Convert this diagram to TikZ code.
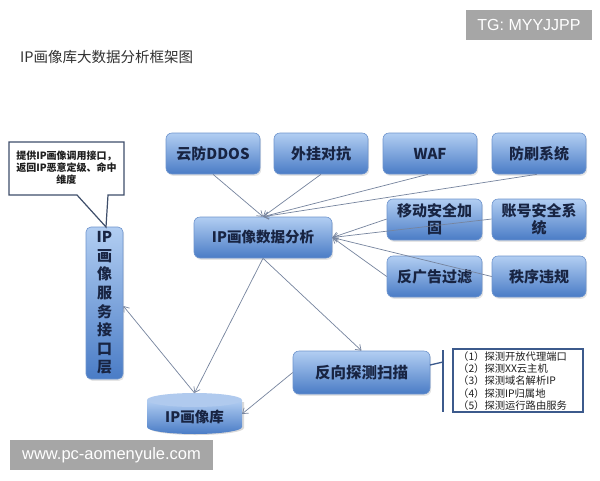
\documentclass[tikz,border=0pt]{standalone}
\usepackage{fontspec}
\setmainfont{Noto Sans CJK SC}
\newfontfamily\wmfont{Liberation Sans}
\usetikzlibrary{arrows.meta,shadows}
\definecolor{boxtop}{RGB}{178,206,242}
\definecolor{boxbot}{RGB}{74,124,198}
\definecolor{boxedge}{RGB}{110,148,205}
\definecolor{boxtext}{RGB}{24,36,66}
\definecolor{linegray}{RGB}{118,132,158}
\definecolor{wmgray}{RGB}{166,166,166}
\definecolor{listblue}{RGB}{60,90,140}
\definecolor{dbtopcol}{RGB}{176,202,238}
\definecolor{titlecol}{RGB}{50,50,50}
\definecolor{notecol}{RGB}{30,30,30}
\definecolor{noteedge}{RGB}{62,78,106}
\tikzset{
  bluebox/.style={rounded corners=6pt, top color=boxtop, bottom color=boxbot, draw=boxedge, line width=0.6pt,
    drop shadow={shadow xshift=1.2pt, shadow yshift=-1.8pt, opacity=0.2},
    text=boxtext, font=\bfseries\fontsize{15}{18}\selectfont, align=center, inner sep=2pt},
  conn/.style={draw=linegray, line width=0.7pt, -{Straight Barb[length=5pt,width=7pt]}},
  wmbox/.style={fill=wmgray, text=white, font=\wmfont\fontsize{16}{18}\selectfont, inner sep=0pt}
}
\begin{document}
\begin{tikzpicture}[x=1pt,y=-1pt]
\useasboundingbox[fill=white] (0,0) rectangle (600,480);

% watermark top
\fill[wmgray] (466,10) rectangle (592,40);
\node[wmbox] (tg) at (529,25) {TG: MYYJJPP};

% title
\node[anchor=west, text=titlecol, font=\fontsize{14.5}{16}\selectfont, inner sep=0pt] (title) at (20,57) {IP画像库大数据分析框架图};

% top row
\node[bluebox, minimum width=94pt, minimum height=41pt] (ddos) at (213,153.5) {云防DDOS};
\node[bluebox, minimum width=94pt, minimum height=41pt] (wg) at (321,153.5) {外挂对抗};
\node[bluebox, minimum width=94pt, minimum height=41pt] (waf) at (430,153.5) {WAF};
\node[bluebox, minimum width=94pt, minimum height=41pt] (fs) at (539,153.5) {防刷系统};

% right blocks
\node[bluebox, minimum width=95pt, minimum height=41pt, font=\bfseries\fontsize{15}{17}\selectfont] (yd) at (434.5,219.5) {移动安全加\\固};
\node[bluebox, minimum width=94pt, minimum height=41pt, font=\bfseries\fontsize{15}{17}\selectfont] (zh) at (539,219.5) {账号安全系\\统};
\node[bluebox, minimum width=95pt, minimum height=41pt] (fg) at (434.5,276.5) {反广告过滤};
\node[bluebox, minimum width=94pt, minimum height=41pt] (zx) at (539,276.5) {秩序违规};

% analysis
\node[bluebox, minimum width=138pt, minimum height=41pt, font=\bfseries\fontsize{14.5}{17}\selectfont] (ana) at (263,237.5) {IP画像数据分析};

% interface layer
\node[bluebox, rounded corners=5pt, minimum width=37pt, minimum height=152pt, text width=30pt, inner sep=0pt, font=\bfseries\fontsize{15}{18.6}\selectfont] (api) at (104.5,303) {IP\\画\\像\\服\\务\\接\\口\\层};

% reverse scan
\node[bluebox, minimum width=137pt, minimum height=43pt, font=\bfseries\fontsize{15.5}{18}\selectfont] (scan) at (361.5,372.5) {反向探测扫描};

% database cylinder
\fill[black, opacity=0.15] (149,402) -- (149,428) arc[start angle=180, end angle=360, x radius=47.5pt, y radius=7pt] -- (244,402) -- cycle;
\shade[top color=boxtop, bottom color=boxbot] (147,400) -- (147,427) arc[start angle=180, end angle=360, x radius=47.5pt, y radius=7pt] -- (242,400) -- cycle;
\fill[dbtopcol] (194.5,400) ellipse[x radius=47.5pt, y radius=7pt];
\node[text=boxtext, font=\bfseries\fontsize{14.5}{17}\selectfont, minimum width=95pt, minimum height=34pt, inner sep=0pt] (db) at (194.5,417) {IP画像库};
\coordinate (dbtop) at (194.5,393);
\coordinate (dbright) at (242,414);

% callout
\draw[draw=noteedge, line width=1.2pt, fill=white] (9,142) -- (124,142) -- (124,195) -- (108,195) -- (106,227) -- (77,195) -- (9,195) -- cycle;
\node[font=\bfseries\fontsize{10}{12}\selectfont, text=notecol, align=center, inner sep=0pt] (note) at (66.5,168) {提供IP画像调用接口，\\返回IP恶意定级、命中\\维度};

% list
\draw[draw=listblue, line width=1.5pt, fill=white] (453,349) rectangle (583,412);
\node[anchor=north west, font=\fontsize{10.3}{12.4}\selectfont, text=notecol, align=left, inner sep=0pt] (list) at (458,351) {（1）探测开放代理端口\\（2）探测XX云主机\\（3）探测域名解析IP\\（4）探测IP归属地\\（5）探测运行路由服务};
\coordinate (brtop) at (443,350);
\coordinate (brbot) at (443,412);
\coordinate (brmid) at (443,362);
\coordinate (scanr) at (430,365);
\draw[draw=listblue, line width=1.6pt] (brtop) -- (brbot);
\draw[draw=listblue, line width=1.3pt] (scanr) -- (brmid);

% connectors
\draw[conn] (ddos.south) -- (ana.north);
\draw[conn] (wg.south) -- (ana.north);
\draw[conn] ([xshift=-2pt]waf.south) -- (ana.north);
\draw[conn] ([xshift=-2pt]fs.south) -- (ana.north);
\draw[conn] ([yshift=0.5pt]yd.west) -- (ana.east);
\draw[conn] ([yshift=0.5pt]zh.west) -- (ana.east);
\draw[conn] (fg.west) -- (ana.east);
\draw[conn] (zx.west) -- (ana.east);
\draw[conn] (ana.south) -- (scan.north);
\draw[conn] (ana.south) -- (dbtop);
\draw[conn] (dbtop) -- ([yshift=-3pt]api.east);
\draw[conn] (scan.west) -- (dbright);

% watermark bottom
\fill[wmgray] (10,440) rectangle (213,470);
\node[wmbox, font=\wmfont\fontsize{16.5}{18}\selectfont] (www) at (111.5,455) {www.pc-aomenyule.com};
\end{tikzpicture}
\end{document}
